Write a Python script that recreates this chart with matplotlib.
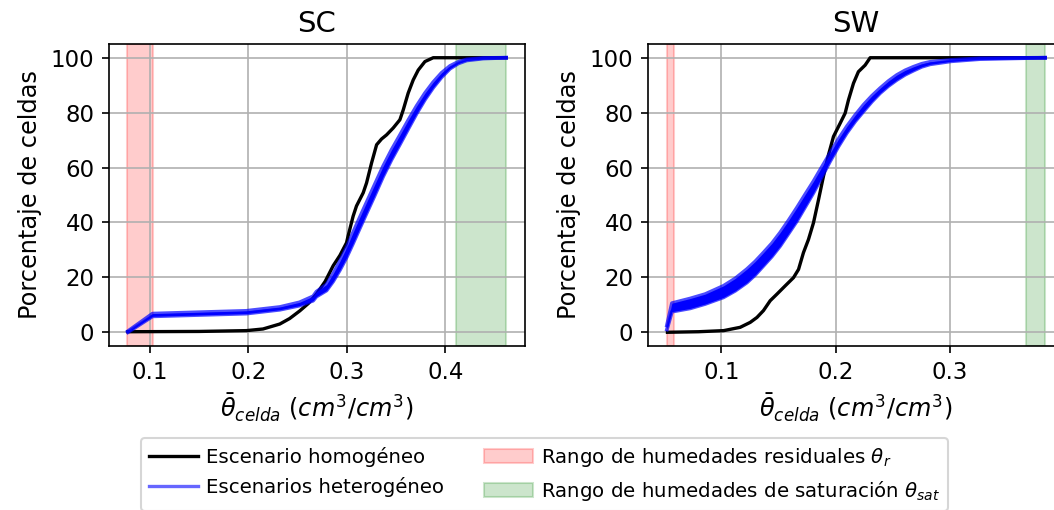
import numpy as np
import matplotlib
matplotlib.use("Agg")
import matplotlib.pyplot as plt
from matplotlib.lines import Line2D

# SC: escenario homogeneo
sc_hom_x = [0.078, 0.15, 0.1982, 0.215, 0.232, 0.242, 0.2523, 0.261, 0.2692, 0.278,
            0.2861, 0.293, 0.2997, 0.3013, 0.3064, 0.3098, 0.3166, 0.32, 0.3251, 0.3302,
            0.3352, 0.3403, 0.347, 0.3538, 0.3572, 0.3622, 0.3673, 0.3724, 0.3792, 0.3876,
            0.4615]
sc_hom_y = [0.2, 0.3, 0.6, 1.2, 3.0, 5.0, 7.8, 10.5, 13.9, 18.5,
            24.2, 28.0, 32.6, 35.1, 42.3, 46.0, 50.8, 54.4, 61.7, 68.3,
            70.4, 71.9, 74.4, 77.4, 81.0, 87.1, 91.9, 95.5, 98.6, 100,
            100]

# SC: escenarios heterogeneos (envolvente inferior y superior)
sc_het_x = [0.078, 0.103, 0.198, 0.232, 0.252, 0.2658, 0.2692, 0.2794, 0.2861, 0.2929,
            0.2997, 0.3064, 0.3132, 0.32, 0.3284, 0.3368, 0.3454, 0.3538, 0.3622, 0.3707,
            0.3792, 0.3876, 0.3961, 0.4046, 0.413, 0.4215, 0.4384, 0.4615]
sc_het_lo = [0.0, 5.8, 6.8, 8.2, 9.7, 11.5, 13.0, 15.2, 18.5, 22.6,
             27.2, 32.4, 37.9, 43.3, 49.9, 56.7, 62.9, 68.4, 74.0, 79.6,
             84.7, 89.1, 92.9, 96.0, 97.9, 99.0, 99.7, 100]
sc_het_hi = [0.4, 6.8, 7.8, 9.2, 10.9, 13.1, 14.8, 17.4, 21.3, 25.8,
             30.8, 36.4, 41.9, 47.3, 53.9, 60.5, 66.5, 71.8, 77.2, 82.4,
             87.1, 91.1, 94.5, 97.0, 98.5, 99.4, 99.9, 100]

# SW: escenario homogeneo
sw_hom_x = [0.0528, 0.08, 0.102, 0.1164, 0.1252, 0.1311, 0.1368, 0.1427, 0.1486, 0.1558,
            0.1631, 0.1675, 0.1718, 0.1762, 0.1806, 0.185, 0.1893, 0.1937, 0.1981, 0.2039,
            0.2083, 0.2112, 0.2156, 0.2199, 0.2258, 0.2302, 0.3833]
sw_hom_y = [0, 0.2, 0.6, 1.8, 3.6, 5.4, 7.9, 11.5, 13.9, 16.9,
            19.9, 22.9, 29.0, 33.8, 39.9, 48.3, 56.8, 64.6, 71.3, 76.1,
            79.8, 84.6, 90.7, 94.9, 97.3, 100, 100]

# SW: escenarios heterogeneos
sw_het_x = [0.0523, 0.0567, 0.0727, 0.0858, 0.1018, 0.1121, 0.1223, 0.1296, 0.1368, 0.1442,
            0.1514, 0.1587, 0.1661, 0.1733, 0.1806, 0.1879, 0.1952, 0.2025, 0.2098, 0.2171,
            0.2243, 0.2317, 0.2389, 0.2462, 0.2535, 0.2608, 0.2681, 0.2754, 0.2827, 0.3011,
            0.3264, 0.3833]
sw_het_lo = [1.0, 7.5, 8.7, 10.3, 12.7, 15.1, 18.1, 20.9, 24.2, 27.6,
             31.4, 35.9, 40.5, 45.6, 50.8, 56.6, 62.3, 67.7, 72.6, 76.8,
             80.4, 84.0, 87.1, 89.7, 91.9, 93.8, 95.3, 96.7, 97.6, 98.7,
             99.5, 100]
sw_het_hi = [2.5, 10.6, 12.3, 13.9, 16.9, 19.6, 23.0, 25.8, 29.0, 32.4,
             36.3, 40.7, 45.4, 50.2, 55.0, 60.2, 65.3, 70.4, 75.0, 79.1,
             82.8, 86.1, 88.9, 91.5, 93.7, 95.4, 96.7, 97.8, 98.5, 99.2,
             99.8, 100]

# rangos de theta_r y theta_sat
sc_theta_r = (0.0775, 0.1034)
sc_theta_sat = (0.4107, 0.4615)
sw_theta_r = (0.0523, 0.0581)
sw_theta_sat = (0.3664, 0.3833)

sc_xticks = [0.1, 0.2, 0.3, 0.4]
sw_xticks = [0.1, 0.2, 0.3]
yticks = [0, 20, 40, 60, 80, 100]

fig = plt.figure(figsize=(1054 / 150, 510 / 150), dpi=150)
ax1 = fig.add_axes([109 / 1054, 1 - 346 / 510, 416 / 1054, 302 / 510])
ax2 = fig.add_axes([648 / 1054, 1 - 346 / 510, 416 / 1054, 302 / 510])


def panel(ax, title, hx, hy, tx, tlo, thi, rr, rs, xticks):
    ax.axvspan(rr[0], rr[1], color="red", alpha=0.2, label=r"Rango de humedades residuales $\theta_r$")
    ax.axvspan(rs[0], rs[1], color="green", alpha=0.2, label=r"Rango de humedades de saturación $\theta_{sat}$")
    ax.plot(hx, hy, color="black", lw=1.6, label="Escenario homogéneo", zorder=3)
    ax.fill_between(tx, tlo, thi, color="blue", lw=0, zorder=4)
    ax.plot(tx, tlo, color="blue", alpha=0.7, lw=1.8, zorder=4)
    ax.plot(tx, thi, color="blue", alpha=0.7, lw=1.8, zorder=4)
    ax.grid(True)
    ax.set_title(title, fontsize=14)
    ax.set_xticks(xticks)
    ax.set_yticks(yticks)
    ax.tick_params(labelsize=11)
    ax.set_xlabel(r"$\bar{\theta}_{celda}\ (cm^3/cm^3)$", fontsize=11.5)
    ax.set_ylabel("Porcentaje de celdas", fontsize=11.5)
    lo, hi = min(tx[0], hx[0]), max(tx[-1], hx[-1])
    m = (hi - lo) * 0.05
    ax.set_xlim(lo - m, hi + m)
    ax.set_ylim(-5, 105)


panel(ax1, "SC", sc_hom_x, sc_hom_y, sc_het_x, sc_het_lo, sc_het_hi,
      sc_theta_r, sc_theta_sat, sc_xticks)
panel(ax2, "SW", sw_hom_x, sw_hom_y, sw_het_x, sw_het_lo, sw_het_hi,
      sw_theta_r, sw_theta_sat, sw_xticks)

h, l = ax1.get_legend_handles_labels()
het = Line2D([], [], color="blue", alpha=0.6, lw=1.6)
handles = [h[l.index("Escenario homogéneo")], het, h[0], h[1]]
labels = ["Escenario homogéneo", "Escenarios heterogéneo", l[0], l[1]]
fig.legend(handles, labels, loc="upper center",
           bbox_to_anchor=(544.5 / 1054, 1 - 428 / 510), ncol=2, fontsize=9.5,
           handlelength=2.5, handletextpad=0.4)

fig.savefig("out.png", dpi=150)
